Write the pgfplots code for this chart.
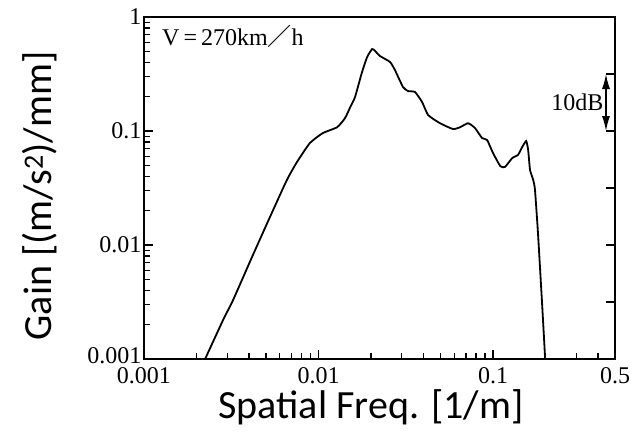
\documentclass[border=0pt]{standalone}
\usepackage{fontspec}
\usepackage{pgfplots}
\pgfplotsset{compat=1.18}
\usetikzlibrary{arrows.meta}
\setmainfont{Liberation Serif}
\newfontfamily\cjk{Noto Sans CJK JP}
\newfontfamily\calibri{Carlito}
\newcommand\tickfont{\fontsize{24bp}{28bp}\selectfont}

\begin{document}
\begin{tikzpicture}
\begin{axis}[
    scale only axis, width=471bp, height=342bp,
    xmode=log, ymode=log,
    xmin=0.001, xmax=0.5, ymin=0.001, ymax=1,
    xtick={0.001,0.01,0.1,0.5}, xticklabels={0.001,0.01,0.1,0.5},
    ytick={0.001,0.01,0.1,1}, yticklabels={\raisebox{6bp}{0.001},0.01,0.1,1},
    minor xtick={0.002,0.003,0.004,0.005,0.006,0.007,0.008,0.009,
                 0.02,0.03,0.04,0.05,0.06,0.07,0.08,0.09,0.2,0.3,0.4},
    minor ytick={0.002,0.003,0.004,0.005,0.006,0.007,0.008,0.009,
                 0.02,0.03,0.04,0.05,0.06,0.07,0.08,0.09,
                 0.2,0.3,0.4,0.5,0.6,0.7,0.8,0.9},
    tick pos=left, tick align=inside,
    major tick length=9bp, minor tick length=6bp,
    every tick/.style={black, line width=1.3bp},
    every minor tick/.style={black, line width=1.3bp},
    ticklabel style={font=\tickfont},
    xticklabel style={yshift=-5bp},
    yticklabel style={xshift=1bp},
    xlabel={Spatial Freq. [1/m]},
    ylabel={Gain [(m/s\textsuperscript{2})/mm]},
    xlabel style={font=\calibri\fontsize{40bp}{48bp}\selectfont,
                  at={(axis description cs:0.482,-0.14)}, anchor=center},
    ylabel style={font=\calibri\fontsize{40bp}{48bp}\selectfont,
                  at={(axis description cs:-0.221,0.477)}, anchor=center},
  ]
  \addplot[black, line width=1.8bp, smooth, tension=0.3] coordinates {
    (0.00224,0.001) (0.00284,0.00220) (0.00324,0.00329) (0.00416,0.00785)
    (0.00527,0.0176) (0.00659,0.0372) (0.00753,0.0535) (0.00893,0.0785)
    (0.0106,0.0960) (0.0128,0.108) (0.0142,0.130) (0.0152,0.162)
    (0.0162,0.199) (0.0177,0.323) (0.0190,0.446) (0.0203,0.524)
    (0.0211,0.503) (0.0225,0.455) (0.0257,0.403) (0.0274,0.343)
    (0.0305,0.243) (0.0326,0.224) (0.0357,0.220) (0.0392,0.180)
    (0.0425,0.138) (0.0497,0.117) (0.0590,0.104) (0.0648,0.108)
    (0.0720,0.117) (0.0789,0.106) (0.0865,0.0868) (0.0925,0.0834)
    (0.100,0.0641) (0.110,0.0493) (0.117,0.0483) (0.129,0.058)
    (0.139,0.0616) (0.147,0.0724) (0.155,0.0817) (0.159,0.0681)
    (0.163,0.0455) (0.170,0.0372) (0.174,0.0304) (0.181,0.0127)
    (0.191,0.0031) (0.199,0.001)
  };
  % 10 dB ticks on the right side
  \pgfplotsinvokeforeach{0.3162,0.1,0.03162,0.01,0.003162}{
    \draw[line width=1.3bp] (axis cs:0.5,#1) -- ([xshift=-9bp]axis cs:0.5,#1);
  }
  \draw[{Latex[length=15bp,width=8bp]}-{Latex[length=15bp,width=8bp]}, line width=1.3bp]
    ([xshift=-9bp]axis cs:0.5,0.3162) -- ([xshift=-9bp]axis cs:0.5,0.1);
  \node[anchor=east, font=\tickfont] at ([xshift=-8bp]axis cs:0.5,0.178) {10dB};
  \node[anchor=base west, inner sep=0pt, font=\tickfont]
    at ([xshift=18bp, yshift=-28bp]axis cs:0.001,1) {V\,=\,270km{\cjk ／}h};
  \coordinate (bl) at (axis cs:0.001,0.001);
  \coordinate (tr) at (axis cs:0.5,1);
\end{axis}
% heavy frame as in the scan
\draw[line width=2.4bp, black] (bl) -- (bl-|tr) -- (tr) -- (tr-|bl) -- cycle;
\pgfresetboundingbox
\path ([shift={(-144bp,-81bp)}]bl) rectangle ++(633bp,440bp);
\end{tikzpicture}
\end{document}
